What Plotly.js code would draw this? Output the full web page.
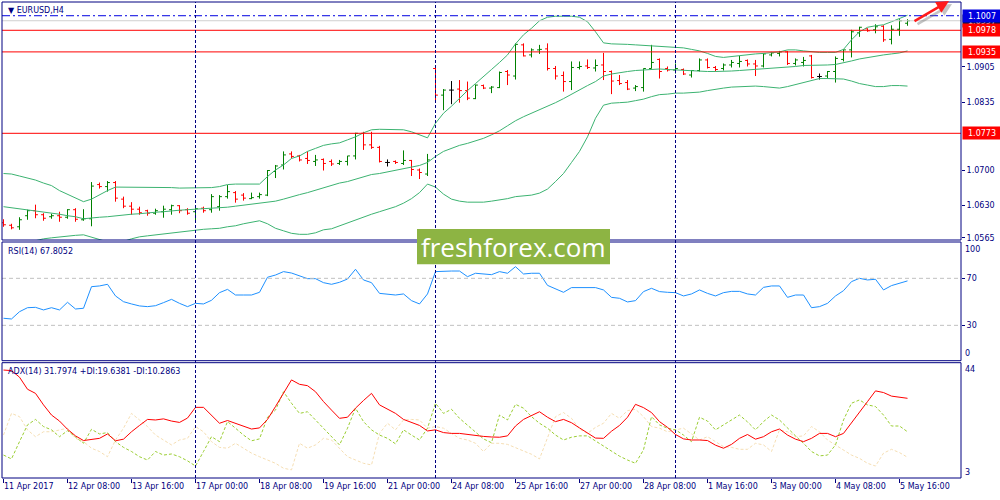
<!DOCTYPE html>
<html><head><meta charset="utf-8">
<script src="https://cdn.plot.ly/plotly-3.0.1.min.js"></script>
<style>html,body{margin:0;padding:0;background:#fff;}#chart{width:1000px;height:500px;}</style>
</head><body><div id="chart"></div>
<script>
const opens = [1.0595,1.0590,1.0587,1.0609,1.0619,1.0611,1.0607,1.0609,1.0606,1.0621,
 1.0601,1.0603,1.0671,1.0667,1.0675,1.0642,1.0628,1.0622,1.0619,1.0614,
 1.0617,1.0621,1.0629,1.0621,1.0617,1.0624,1.0621,1.0627,1.0647,1.0655,
 1.0650,1.0643,1.0647,1.0650,1.0697,1.0710,1.0732,1.0728,1.0723,1.0717,
 1.0721,1.0717,1.0713,1.0717,1.0728,1.0773,1.0750,1.0745,1.0715,1.0717,
 1.0713,1.0719,1.0700,1.0692,1.0902,1.0849,1.0859,1.0861,1.0858,1.0842,
 1.0868,1.0863,1.0864,1.0896,1.0887,1.0949,1.0929,1.0939,1.0941,1.0902,
 1.0888,1.0876,1.0904,1.0907,1.0903,1.0909,1.0896,1.0878,1.0874,1.0863,
 1.0864,1.0902,1.0920,1.0902,1.0899,1.0900,1.0889,1.0898,1.0919,1.0904,
 1.0902,1.0909,1.0912,1.0918,1.0911,1.0907,1.0929,1.0932,1.0935,1.0912,
 1.0914,1.0927,1.0886,1.0887,1.0896,1.0920,1.0939,1.0973,1.0981,1.0979,
 1.0986,1.0960,1.0980,1.0992];
const highs = [1.0602,1.0593,1.0606,1.0621,1.0631,1.0614,1.0613,1.0617,1.0622,1.0624,
 1.0622,1.0676,1.0675,1.0678,1.0678,1.0647,1.0636,1.0627,1.0621,1.0623,
 1.0629,1.0631,1.0630,1.0624,1.0626,1.0627,1.0652,1.0650,1.0670,1.0658,
 1.0654,1.0655,1.0655,1.0700,1.0710,1.0737,1.0737,1.0730,1.0737,1.0730,
 1.0723,1.0721,1.0720,1.0728,1.0774,1.0776,1.0776,1.0748,1.0721,1.0719,
 1.0739,1.0720,1.0703,1.0732,1.0904,1.0861,1.0877,1.0879,1.0876,1.0870,
 1.0870,1.0867,1.0896,1.0899,1.0952,1.0952,1.0942,1.0949,1.0952,1.0907,
 1.0896,1.0916,1.0916,1.0920,1.0920,1.0933,1.0898,1.0889,1.0879,1.0869,
 1.0902,1.0949,1.0922,1.0906,1.0912,1.0902,1.0899,1.0922,1.0922,1.0907,
 1.0912,1.0919,1.0927,1.0920,1.0919,1.0932,1.0935,1.0937,1.0937,1.0922,
 1.0925,1.0929,1.0892,1.0897,1.0926,1.0940,1.0979,1.0985,1.0982,1.0990,
 1.0988,1.0988,1.1000,1.1000];
const lows = [1.0587,1.0582,1.0581,1.0601,1.0604,1.0599,1.0603,1.0597,1.0603,1.0597,
 1.0599,1.0588,1.0663,1.0657,1.0637,1.0624,1.0611,1.0611,1.0609,1.0611,
 1.0605,1.0611,1.0614,1.0611,1.0599,1.0615,1.0615,1.0619,1.0643,1.0635,
 1.0639,1.0642,1.0643,1.0648,1.0684,1.0701,1.0723,1.0717,1.0712,1.0708,
 1.0699,1.0708,1.0710,1.0709,1.0721,1.0740,1.0742,1.0715,1.0707,1.0712,
 1.0710,1.0688,1.0682,1.0688,1.0839,1.0819,1.0831,1.0834,1.0839,1.0841,
 1.0861,1.0853,1.0863,1.0869,1.0880,1.0926,1.0924,1.0931,1.0898,1.0880,
 1.0856,1.0859,1.0900,1.0901,1.0896,1.0879,1.0851,1.0869,1.0859,1.0857,
 1.0856,1.0902,1.0882,1.0896,1.0892,1.0889,1.0884,1.0896,1.0902,1.0896,
 1.0898,1.0904,1.0904,1.0906,1.0887,1.0904,1.0926,1.0926,1.0909,1.0908,
 1.0906,1.0882,1.0880,1.0882,1.0874,1.0916,1.0924,1.0965,1.0975,1.0972,
 1.0955,1.0950,1.0967,1.0987];
const closes = [1.0591,1.0585,1.0601,1.0619,1.0611,1.0604,1.0609,1.0606,1.0621,1.0602,
 1.0603,1.0668,1.0667,1.0675,1.0644,1.0628,1.0622,1.0615,1.0614,1.0619,
 1.0622,1.0629,1.0619,1.0614,1.0623,1.0619,1.0647,1.0647,1.0657,1.0642,
 1.0644,1.0645,1.0651,1.0699,1.0708,1.0730,1.0727,1.0720,1.0719,1.0720,
 1.0713,1.0712,1.0717,1.0728,1.0773,1.0750,1.0745,1.0717,1.0715,1.0715,
 1.0719,1.0701,1.0695,1.0720,1.0849,1.0859,1.0859,1.0858,1.0843,1.0869,
 1.0863,1.0865,1.0894,1.0889,1.0950,1.0927,1.0939,1.0940,1.0902,1.0887,
 1.0876,1.0904,1.0906,1.0904,1.0908,1.0896,1.0877,1.0872,1.0861,1.0866,
 1.0902,1.0914,1.0896,1.0899,1.0902,1.0891,1.0898,1.0919,1.0904,1.0900,
 1.0909,1.0914,1.0916,1.0911,1.0907,1.0931,1.0933,1.0935,1.0912,1.0919,
 1.0918,1.0884,1.0886,1.0896,1.0922,1.0939,1.0975,1.0984,1.0977,1.0985,
 1.0959,1.0980,1.0997,1.0997];
const bbUpper = [1.0693,1.0692,1.0688,1.0684,1.0680,1.0674,1.0669,1.0659,1.0652,1.0644,
 1.0637,1.0642,1.0651,1.0659,1.0666,1.0666,1.0666,1.0665,1.0665,1.0665,
 1.0666,1.0665,1.0664,1.0664,1.0664,1.0664,1.0665,1.0667,1.0671,1.0672,
 1.0672,1.0672,1.0672,1.0687,1.0700,1.0710,1.0723,1.0728,1.0737,1.0743,
 1.0749,1.0752,1.0754,1.0760,1.0766,1.0774,1.0780,1.0781,1.0781,1.0781,
 1.0780,1.0776,1.0770,1.0764,1.0793,1.0813,1.0827,1.0843,1.0858,1.0872,
 1.0887,1.0900,1.0914,1.0929,1.0951,1.0969,1.0982,1.0997,1.1004,1.1006,
 1.1006,1.1006,1.1004,1.0995,1.0975,1.0953,1.0951,1.0951,1.0950,1.0949,
 1.0948,1.0947,1.0947,1.0946,1.0945,1.0943,1.0940,1.0937,1.0932,1.0926,
 1.0924,1.0926,1.0928,1.0929,1.0931,1.0932,1.0933,1.0935,1.0939,1.0939,
 1.0937,1.0935,1.0934,1.0934,1.0934,1.0940,1.0959,1.0975,1.0984,1.0987,
 1.0989,1.0995,1.1002,1.1008];
const bbMiddle = [1.0627,1.0625,1.0623,1.0620,1.0618,1.0616,1.0614,1.0612,1.0609,1.0607,
 1.0603,1.0605,1.0606,1.0607,1.0609,1.0611,1.0612,1.0613,1.0615,1.0616,
 1.0617,1.0619,1.0620,1.0621,1.0622,1.0623,1.0623,1.0624,1.0626,1.0628,
 1.0630,1.0632,1.0634,1.0635,1.0638,1.0642,1.0647,1.0651,1.0655,1.0660,
 1.0664,1.0670,1.0674,1.0677,1.0682,1.0687,1.0691,1.0693,1.0696,1.0699,
 1.0702,1.0705,1.0709,1.0715,1.0727,1.0737,1.0743,1.0749,1.0753,1.0758,
 1.0763,1.0770,1.0778,1.0788,1.0798,1.0806,1.0813,1.0819,1.0826,1.0834,
 1.0842,1.0851,1.0859,1.0868,1.0876,1.0887,1.0891,1.0894,1.0896,1.0898,
 1.0899,1.0900,1.0901,1.0900,1.0899,1.0898,1.0898,1.0897,1.0896,1.0896,
 1.0896,1.0897,1.0898,1.0899,1.0900,1.0901,1.0902,1.0904,1.0905,1.0906,
 1.0908,1.0908,1.0909,1.0909,1.0910,1.0913,1.0917,1.0921,1.0924,1.0927,
 1.0929,1.0931,1.0933,1.0937];
const bbLower = [1.0548,1.0549,1.0552,1.0556,1.0560,1.0563,1.0565,1.0567,1.0569,1.0570,
 1.0571,1.0566,1.0562,1.0557,1.0556,1.0558,1.0563,1.0567,1.0569,1.0571,
 1.0573,1.0575,1.0577,1.0579,1.0581,1.0582,1.0583,1.0584,1.0587,1.0589,
 1.0593,1.0596,1.0599,1.0593,1.0584,1.0579,1.0574,1.0572,1.0572,1.0575,
 1.0581,1.0583,1.0589,1.0595,1.0601,1.0606,1.0612,1.0617,1.0622,1.0627,
 1.0634,1.0643,1.0655,1.0672,1.0666,1.0652,1.0642,1.0638,1.0636,1.0636,
 1.0636,1.0638,1.0640,1.0643,1.0647,1.0648,1.0650,1.0654,1.0662,1.0677,
 1.0693,1.0715,1.0737,1.0766,1.0803,1.0829,1.0833,1.0834,1.0835,1.0838,
 1.0841,1.0846,1.0850,1.0851,1.0853,1.0853,1.0854,1.0855,1.0858,1.0861,
 1.0863,1.0865,1.0866,1.0867,1.0867,1.0866,1.0865,1.0863,1.0866,1.0870,
 1.0875,1.0879,1.0882,1.0882,1.0882,1.0881,1.0877,1.0872,1.0869,1.0866,
 1.0866,1.0868,1.0868,1.0867];
const rsi = [36.0,35.4,41.6,45.0,45.3,43.1,45.0,43.1,49.6,43.9,
 44.5,62.9,63.5,64.9,55.0,50.1,48.2,46.5,45.9,46.7,
 49.3,52.1,48.7,45.9,48.7,48.2,51.3,57.8,60.6,55.8,
 55.8,55.8,58.1,70.9,72.8,75.7,74.5,72.0,69.7,69.7,
 66.3,64.9,66.6,69.4,77.7,68.6,66.3,57.2,56.7,55.8,
 56.7,51.0,48.2,56.7,75.7,76.2,76.2,76.2,71.4,74.3,
 73.4,73.1,75.7,74.3,79.9,73.7,74.3,74.3,64.0,61.2,
 58.1,62.1,62.1,62.1,62.1,60.1,53.8,53.0,49.9,51.0,
 58.7,61.5,58.7,58.1,57.8,55.0,56.7,60.1,57.2,55.0,
 57.8,58.9,58.9,56.7,55.8,62.3,63.5,63.5,53.8,55.8,
 55.8,45.0,45.9,48.7,55.0,59.5,67.2,70.0,68.6,69.2,
 60.1,63.8,65.7,67.8];
const adx = [42.1,41.9,39.5,35.1,33.6,29.4,25.7,23.5,20.5,18.1,
 16.4,16.9,17.2,18.8,16.3,16.9,19.6,21.9,24.1,23.9,
 24.3,23.5,23.0,24.6,28.5,28.5,25.7,22.7,23.7,22.7,
 21.8,20.6,21.0,24.1,28.8,33.6,38.5,36.9,36.4,34.2,
 30.6,27.5,24.5,24.9,28.2,31.0,33.6,29.4,27.8,26.3,
 24.1,23.0,21.9,19.9,20.3,19.3,19.0,19.0,18.6,18.1,
 17.9,17.7,17.6,18.1,21.7,24.1,25.6,26.9,24.9,23.3,
 24.1,22.9,21.0,19.0,17.3,17.2,19.8,21.9,24.9,29.6,
 28.4,26.6,23.3,21.2,18.6,17.0,16.6,16.6,16.4,14.7,
 13.6,15.0,17.2,18.6,16.9,17.8,19.6,20.6,18.4,16.9,
 16.0,17.2,19.0,19.0,17.8,19.0,23.0,26.7,30.6,34.5,
 33.9,32.6,32.2,31.8];
const plusDI = [11.1,9.7,16.0,22.1,24.1,21.5,20.3,17.8,20.0,17.6,
 15.4,20.5,18.8,19.3,16.0,13.9,12.4,10.5,9.3,12.4,
 11.1,11.5,10.5,9.0,7.1,12.4,17.8,16.0,23.3,20.9,
 18.4,16.3,17.0,24.9,27.5,34.2,30.0,26.3,26.9,23.9,
 20.9,17.8,14.8,20.9,28.2,23.3,20.3,18.4,17.2,15.2,
 20.3,18.4,16.6,20.9,30.0,26.3,27.8,24.5,22.1,19.6,
 17.0,15.6,25.7,23.9,29.6,28.2,25.1,22.7,20.9,18.4,
 16.6,17.6,18.1,18.1,16.3,14.2,12.4,10.7,9.3,8.1,
 13.0,25.1,22.1,20.9,20.3,18.4,16.0,24.9,23.5,20.3,
 22.1,23.9,25.7,23.2,20.3,23.3,25.7,23.9,20.9,18.1,
 15.4,12.4,10.8,11.1,14.8,23.9,30.0,31.2,29.4,28.8,
 25.7,21.7,21.7,19.6];
const minusDI = [18.4,26.3,25.1,20.3,17.8,19.6,19.6,20.3,20.9,17.2,
 16.0,13.6,12.4,10.5,16.6,20.9,26.3,23.9,21.5,18.4,
 16.6,14.8,16.6,17.2,21.5,19.6,16.0,13.9,13.6,15.4,
 13.6,11.8,10.5,9.3,8.1,6.3,5.7,15.4,13.6,14.8,
 17.2,16.6,13.6,10.5,9.3,8.1,7.5,19.0,22.7,20.3,
 23.9,24.1,23.9,20.9,21.5,20.9,19.0,17.2,16.6,15.4,
 12.4,15.4,15.4,15.0,13.8,12.6,11.4,9.7,17.8,25.1,
 26.6,24.5,20.6,19.0,21.2,22.7,26.3,24.5,27.3,27.8,
 25.1,21.5,20.9,19.6,20.3,20.9,18.8,16.6,17.8,16.0,
 14.2,13.9,13.2,13.2,15.4,14.8,12.4,20.3,19.6,17.8,
 18.1,21.5,19.6,16.6,14.8,13.0,11.1,9.9,8.1,7.1,
 11.8,13.2,12.0,10.3];
const tickBars = [0,8,16,24,32,40,48,56,64,72,80,88,96,104,112];
const tickLabels = ['11 Apr 2017','12 Apr 08:00','13 Apr 16:00','17 Apr 00:00','18 Apr 08:00','19 Apr 16:00','21 Apr 00:00','24 Apr 08:00','25 Apr 16:00','27 Apr 00:00','28 Apr 08:00','1 May 16:00','3 May 00:00','4 May 08:00','5 May 16:00'];
const weekStartBars = [24,54,84];
const priceTicks = [1.0905,1.0835,1.0700,1.0630,1.0565];
const redLevels = [1.0978,1.0935,1.0773];
const askLevel = 1.1007;
const rsiLevels = [70,30];
const rsiScale = [100,0];
const adxScale = [44,3];
const symbolTitle = '\u25BC EURUSD,H4';
const rsiTitle = 'RSI(14) 67.8052';
const adxTitle = 'ADX(14) 31.7974 +DI:19.6381 -DI:10.2863';
const watermark = 'freshforex.com';

const NAVY = '#000080';
const FONT = 'DejaVu Sans';
const L = 2, R = 39, T = 2, B = 22, PW = 1000 - L - R, PH = 500 - T - B;
const px = v => (v - L) / PW;
const py = v => (500 - B - v) / PH;

const bars = opens.map((_, i) => i);
const doji = bars.filter(i => opens[i] === closes[i]);
const normal = bars.filter(i => opens[i] !== closes[i]);
const pick = (arr, idx) => idx.map(i => arr[i]);

const traces = [
  {type:'scatter', mode:'lines', x:bars, y:bbUpper, line:{color:'#3CB371', width:1}, hoverinfo:'skip'},
  {type:'scatter', mode:'lines', x:bars, y:bbMiddle, line:{color:'#3CB371', width:1}, hoverinfo:'skip'},
  {type:'scatter', mode:'lines', x:bars, y:bbLower, line:{color:'#3CB371', width:1}, hoverinfo:'skip'},
  {type:'ohlc', x:pick(bars, normal), open:pick(opens, normal), high:pick(highs, normal), low:pick(lows, normal), close:pick(closes, normal),
   increasing:{line:{color:'#008000', width:1}}, decreasing:{line:{color:'#FF0000', width:1}}, tickwidth:0.3, hoverinfo:'skip'},
  {type:'ohlc', x:pick(bars, doji), open:pick(opens, doji), high:pick(highs, doji), low:pick(lows, doji), close:pick(closes, doji),
   increasing:{line:{color:'#000000', width:1}}, decreasing:{line:{color:'#000000', width:1}}, tickwidth:0.3, hoverinfo:'skip'},
  {type:'scatter', mode:'lines', x:bars, y:rsi, yaxis:'y2', line:{color:'#1E90FF', width:1}, hoverinfo:'skip'},
  {type:'scatter', mode:'lines', x:bars, y:minusDI, yaxis:'y3', line:{color:'#F5DEB3', width:1, dash:'3px,2px'}, hoverinfo:'skip'},
  {type:'scatter', mode:'lines', x:bars, y:plusDI, yaxis:'y3', line:{color:'#9ACD32', width:1, dash:'3px,2px'}, hoverinfo:'skip'},
  {type:'scatter', mode:'lines', x:bars, y:adx, yaxis:'y3', line:{color:'#FF0000', width:1}, hoverinfo:'skip'}
];

const shapes = [];
redLevels.forEach(v => shapes.push({type:'line', xref:'paper', yref:'y', x0:0, x1:1, y0:v, y1:v, line:{color:'#FF0000', width:1}}));
shapes.push({type:'line', xref:'paper', yref:'y', x0:0, x1:1, y0:closes[closes.length-1], y1:closes[closes.length-1], line:{color:'#D0D0D0', width:1}});
shapes.push({type:'line', xref:'paper', yref:'y', x0:0, x1:1, y0:askLevel, y1:askLevel, line:{color:'#0000E0', width:1, dash:'8px,3px,2px,3px'}});
rsiLevels.forEach(v => shapes.push({type:'line', xref:'paper', yref:'y2', x0:0, x1:1, y0:v, y1:v, line:{color:'#C0C0C0', width:1, dash:'4px,3px'}}));
weekStartBars.forEach(b => shapes.push({type:'line', xref:'x', yref:'paper', x0:b, x1:b, y0:0, y1:1, line:{color:NAVY, width:1, dash:'3px,2px'}}));
['y','y2','y3'].forEach(a => shapes.push({type:'rect', xref:'paper', yref:a+' domain', x0:0, x1:1, y0:0, y1:1, line:{color:NAVY, width:1}, fillcolor:'rgba(0,0,0,0)'}));
shapes.push({type:'rect', xref:'paper', yref:'paper', x0:px(417), x1:px(610), y0:py(264.3), y1:py(229), line:{width:0}, fillcolor:'#8DB443', layer:'above'});

function priceBox(val, bg) {
  return {xref:'paper', yref:'y', x:px(962), y:val, xanchor:'left', yanchor:'middle', text:val.toFixed(4), showarrow:false,
    bgcolor:bg, font:{color:'#FFFFFF', size:8, family:FONT}, width:36, height:10, borderpad:1, align:'center'};
}
const annotations = [
  priceBox(closes[closes.length-1], '#101030'),
  priceBox(askLevel, '#0000E0'),
  ...redLevels.map(v => priceBox(v, '#FF0000')),
  {xref:'paper', yref:'paper', x:px(6), y:py(10.5), xanchor:'left', yanchor:'middle', text:symbolTitle, showarrow:false, font:{color:NAVY, size:8, family:FONT}},
  {xref:'paper', yref:'paper', x:px(6), y:py(251.7), xanchor:'left', yanchor:'middle', text:rsiTitle, showarrow:false, font:{color:NAVY, size:8, family:FONT}},
  {xref:'paper', yref:'paper', x:px(6), y:py(371.7), xanchor:'left', yanchor:'middle', text:adxTitle, showarrow:false, font:{color:NAVY, size:8, family:FONT}},
  {xref:'paper', yref:'paper', x:px(963), y:py(249.3), xanchor:'left', yanchor:'middle', text:String(rsiScale[0]), showarrow:false, font:{color:NAVY, size:8, family:FONT}},
  {xref:'paper', yref:'paper', x:px(963), y:py(353.3), xanchor:'left', yanchor:'middle', text:String(rsiScale[1]), showarrow:false, font:{color:NAVY, size:8, family:FONT}},
  {xref:'paper', yref:'paper', x:px(963), y:py(369.3), xanchor:'left', yanchor:'middle', text:String(adxScale[0]), showarrow:false, font:{color:NAVY, size:8, family:FONT}},
  {xref:'paper', yref:'paper', x:px(963), y:py(472.7), xanchor:'left', yanchor:'middle', text:String(adxScale[1]), showarrow:false, font:{color:NAVY, size:8, family:FONT}},
  {xref:'paper', yref:'paper', x:px(513.5), y:py(246.8), xanchor:'center', yanchor:'middle', text:watermark, showarrow:false, font:{color:'#FFFFFF', size:26, family:'Open Sans'}},
  {xref:'paper', yref:'paper', x:px(952), y:py(4), text:'', showarrow:true, ax:-36, ay:21, arrowcolor:'rgba(110,110,110,0.4)', arrowwidth:2.5, arrowhead:2, arrowsize:1},
  {xref:'paper', yref:'paper', x:px(949), y:py(1), text:'', showarrow:true, ax:-36, ay:21, arrowcolor:'#FF1A1A', arrowwidth:2.5, arrowhead:2, arrowsize:1}
];

const axisCommon = {showgrid:false, zeroline:false, showline:false, fixedrange:true};
const layout = {
  width:1000, height:500,
  margin:{l:L, r:R, t:T, b:B},
  paper_bgcolor:'#FFFFFF', plot_bgcolor:'#FFFFFF',
  showlegend:false,
  font:{family:FONT, size:8, color:NAVY},
  xaxis:Object.assign({}, axisCommon, {range:[-0.1875, 119.6875], anchor:'y3', tickvals:tickBars, ticktext:tickLabels,
    ticks:'outside', ticklen:4, tickcolor:NAVY, ticklabelposition:'outside right', tickfont:{family:FONT, size:8, color:NAVY},
    rangeslider:{visible:false}}),
  yaxis:Object.assign({}, axisCommon, {domain:[py(240), py(2)], range:[1.05607, 1.10343], side:'right', anchor:'x',
    tickvals:priceTicks, tickformat:'.4f', ticks:'outside', ticklen:3, tickcolor:NAVY, tickfont:{family:FONT, size:8, color:NAVY}}),
  yaxis2:Object.assign({}, axisCommon, {domain:[py(360.7), py(242)], range:[-0.1, 100.9], side:'right', anchor:'x',
    tickvals:rsiLevels, ticks:'outside', ticklen:3, tickcolor:NAVY, tickfont:{family:FONT, size:8, color:NAVY}}),
  yaxis3:Object.assign({}, axisCommon, {domain:[py(478), py(362.7)], range:[2.74, 44.78], side:'right', anchor:'x',
    showticklabels:false, ticks:''}),
  shapes:shapes,
  annotations:annotations
};
Plotly.newPlot('chart', traces, layout, {displayModeBar:false, staticPlot:true});
</script></body></html>
